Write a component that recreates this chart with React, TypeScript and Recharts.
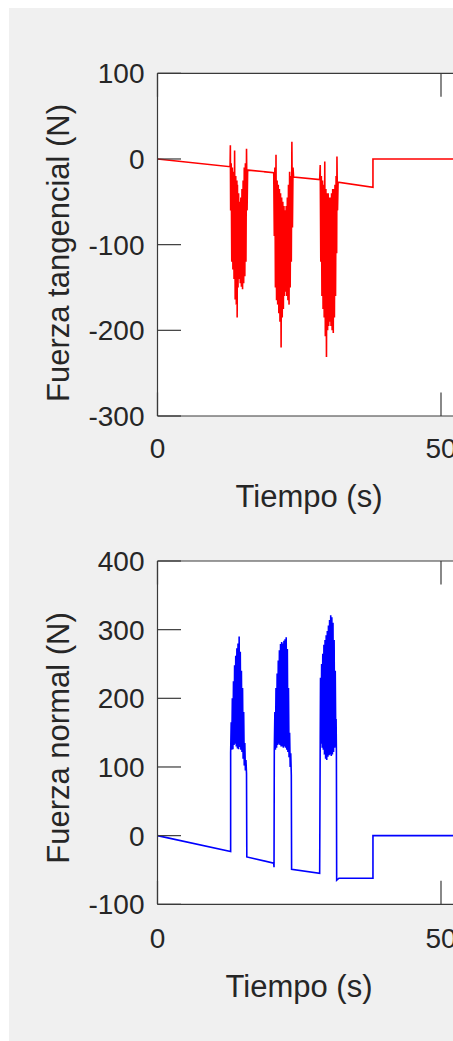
import React from 'react';
import { LineChart, Line, XAxis, YAxis, CartesianGrid, Label } from 'recharts';

type Pt = [number, number];

// ---------- axis ticks ----------
const timeTicks = [0, 50, 100];
const tanTicks = [-300, -200, -100, 0, 100];
const norTicks = [-100, 0, 100, 200, 300, 400];

// ---------- Fuerza tangencial (N) vs Tiempo (s) ----------
const tanLead: Pt[] = [[0, 0], [12.8, -9]];
const tanBurst1: Pt[] = [
  [12.85, 16], [12.9, -60], [13.0, -5], [13.1, -120], [13.2, -10], [13.3, -129], [13.4, -15], [13.5, -140],
  [13.6, 10], [13.7, -164], [13.8, -20], [13.9, -170], [14.0, -25], [14.05, -185], [14.1, -30], [14.2, -150],
  [14.3, -40], [14.4, -140], [14.5, -50], [14.6, -145], [14.7, -45], [14.8, -149], [14.9, -35], [15.0, -152],
  [15.1, -25], [15.2, -145], [15.3, -10], [15.4, -137], [15.5, -5], [15.6, -120], [15.7, 12], [15.8, -60],
  [15.9, -13], [16.0, -13],
];
const tanMid1: Pt[] = [[20.5, -16]];
const tanBurst2: Pt[] = [
  [20.6, -90], [20.7, -10], [20.8, -150], [20.9, 5], [21.0, -165], [21.1, -25], [21.2, -170], [21.3, -30],
  [21.4, -180], [21.5, -35], [21.6, -190], [21.7, -40], [21.8, -220], [21.9, -45], [22.0, -185], [22.1, -50],
  [22.2, -175], [22.3, -55], [22.4, -160], [22.5, -60], [22.6, -155], [22.7, -55], [22.8, -160], [22.9, -45],
  [23.0, -165], [23.1, -30], [23.2, -170], [23.3, -15], [23.4, -150], [23.5, -20], [23.6, -120], [23.7, 20],
  [23.8, -80], [23.9, -10], [24.0, -21],
];
const tanMid2: Pt[] = [[28.6, -24]];
const tanBurst3: Pt[] = [
  [28.7, -7], [28.8, -120], [28.9, -20], [29.0, -160], [29.1, -25], [29.2, -175], [29.3, -30], [29.4, -185],
  [29.5, -3], [29.6, -207], [29.7, -35], [29.8, -231], [29.9, -40], [30.0, -200], [30.1, -40], [30.2, -195],
  [30.3, -45], [30.4, -190], [30.5, -45], [30.6, -195], [30.7, -40], [30.8, -200], [30.9, -35], [31.0, -203],
  [31.1, -35], [31.2, -185], [31.3, -30], [31.4, -160], [31.5, -20], [31.6, -110], [31.65, 3], [31.75, -60],
  [31.85, -27],
];
const tanTail: Pt[] = [[38.0, -33], [38.0, 0], [100, 0]];

// ---------- Fuerza normal (N) vs Tiempo (s) ----------
const norLead: Pt[] = [[0, 0], [12.9, -23]];
const norBurst1: Pt[] = [
  [12.9, 120], [13.0, 165], [13.1, 125], [13.2, 200], [13.3, 126], [13.4, 225], [13.5, 132], [13.6, 248],
  [13.7, 134], [13.8, 262], [13.9, 130], [14.0, 273], [14.1, 127], [14.2, 280], [14.3, 126], [14.4, 290],
  [14.5, 129], [14.6, 268], [14.7, 125], [14.8, 240], [14.9, 122], [15.0, 215], [15.1, 112], [15.2, 180],
  [15.3, 102], [15.4, 135], [15.5, 95], [15.6, 110], [15.7, 90], [15.75, -31],
];
const norMid1: Pt[] = [[20.5, -40], [20.55, -46]];
const norBurst2: Pt[] = [
  [20.6, 125], [20.7, 180], [20.8, 125], [20.9, 215], [21.0, 128], [21.1, 236], [21.2, 132], [21.3, 255],
  [21.4, 134], [21.5, 270], [21.6, 132], [21.7, 279], [21.8, 130], [21.9, 282], [22.0, 130], [22.1, 280],
  [22.2, 128], [22.3, 284], [22.4, 130], [22.5, 286], [22.6, 128], [22.7, 289], [22.8, 125], [22.9, 272],
  [23.0, 122], [23.1, 215], [23.2, 114], [23.3, 150], [23.4, 100], [23.5, 120], [23.6, 88], [23.65, -49],
];
const norMid2: Pt[] = [[28.6, -55]];
const norBurst3: Pt[] = [
  [28.7, 140], [28.75, 230], [28.85, 134], [28.95, 250], [29.05, 128], [29.15, 265], [29.25, 125], [29.35, 278],
  [29.45, 118], [29.55, 285], [29.65, 112], [29.75, 292], [29.85, 110], [29.95, 298], [30.05, 115], [30.15, 306],
  [30.25, 117], [30.35, 314], [30.45, 118], [30.55, 321], [30.65, 116], [30.75, 318], [30.85, 118], [30.95, 310],
  [31.05, 122], [31.15, 285], [31.25, 128], [31.35, 240], [31.45, 130], [31.5, 170], [31.55, 125], [31.6, -65],
];
const norTail: Pt[] = [[32, -62], [38.0, -62], [38.0, 0], [100, 0]];

const toRows = (...segs: Pt[][]) => segs.flat().map(([t, v]) => ({ t, v }));
const tanData = toRows(tanLead, tanBurst1, tanMid1, tanBurst2, tanMid2, tanBurst3, tanTail);
const norData = toRows(norLead, norBurst1, norMid1, norBurst2, norMid2, norBurst3, norTail);

// ---------- styling ----------
const AXIS = '#3a3a3a';
const TXT = '#262626';
const FONT = '"Liberation Sans", Arial, Helvetica, sans-serif';
const TICK_LEN = 23.5;
const TICK_FS = 28;
const LABEL_FS = 31;

const makeBottomTick = (dy: number) => (props: any) => {
  const { x, y, payload } = props;
  return (
    <g>
      <line x1={x} y1={y} x2={x} y2={y - TICK_LEN} stroke={AXIS} strokeWidth={1.2} />
      <text x={x} y={y + dy} textAnchor="middle" fontSize={TICK_FS} fill={TXT} fontFamily={FONT}>
        {payload.value}
      </text>
    </g>
  );
};

const TopTick = (props: any) => {
  const { x, y } = props;
  return <line x1={x} y1={y} x2={x} y2={y + TICK_LEN} stroke={AXIS} strokeWidth={1.2} />;
};

const LeftTick = (props: any) => {
  const { x, y, payload } = props;
  return (
    <g>
      <line x1={x} y1={y} x2={x + TICK_LEN} y2={y} stroke={AXIS} strokeWidth={1.2} />
      <text x={x - 13} y={y + 10} textAnchor="end" fontSize={TICK_FS} fill={TXT} fontFamily={FONT}>
        {payload.value}
      </text>
    </g>
  );
};

const xLabel = (dx: number, dy: number, text: string) => (props: any) => {
  const vb = props.viewBox || {};
  return (
    <text x={vb.x + dx} y={vb.y + dy} textAnchor="middle" fontSize={LABEL_FS} fill={TXT} fontFamily={FONT}>
      {text}
    </text>
  );
};

const yLabel = (dx: number, dy: number, text: string) => (props: any) => {
  const vb = props.viewBox || {};
  const x = vb.x + dx;
  const y = vb.y + dy;
  return (
    <text
      x={x}
      y={y}
      transform={`rotate(-90, ${x}, ${y})`}
      textAnchor="middle"
      fontSize={LABEL_FS}
      fill={TXT}
      fontFamily={FONT}
    >
      {text}
    </text>
  );
};

interface PanelProps {
  data: { t: number; v: number }[];
  yTicks: number[];
  color: string;
  yText: string;
  height: number;
  marginTop: number;
  marginBottom: number;
  xTickDy: number;
  xLabelDx: number;
  xLabelDy: number;
  yLabelDy: number;
}

function Panel(p: PanelProps) {
  const yDomain: [number, number] = [p.yTicks[0], p.yTicks[p.yTicks.length - 1]];
  return (
    <LineChart
      width={760}
      height={p.height}
      data={p.data}
      margin={{ top: p.marginTop, right: 44.5, bottom: p.marginBottom, left: 88.5 }}
    >
      <CartesianGrid horizontal={false} vertical={false} fill="#ffffff" fillOpacity={1} />
      <XAxis
        xAxisId="top"
        orientation="top"
        type="number"
        dataKey="t"
        domain={[0, 100]}
        ticks={timeTicks}
        interval={0}
        allowDataOverflow
        height={30}
        tickSize={0}
        tickMargin={0}
        tickLine={false}
        axisLine={{ stroke: AXIS, strokeWidth: 1.2 }}
        tick={TopTick}
      />
      <XAxis
        type="number"
        dataKey="t"
        domain={[0, 100]}
        ticks={timeTicks}
        interval={0}
        allowDataOverflow
        height={30}
        tickSize={0}
        tickMargin={0}
        tickLine={false}
        axisLine={{ stroke: AXIS, strokeWidth: 1.2 }}
        tick={makeBottomTick(p.xTickDy)}
      >
        <Label content={xLabel(p.xLabelDx, p.xLabelDy, 'Tiempo (s)')} />
      </XAxis>
      <YAxis
        type="number"
        domain={yDomain}
        ticks={p.yTicks}
        interval={0}
        allowDataOverflow
        width={60}
        tickSize={0}
        tickMargin={0}
        tickLine={false}
        axisLine={{ stroke: AXIS, strokeWidth: 1.2 }}
        tick={LeftTick}
      >
        <Label content={yLabel(-29, p.yLabelDy, p.yText)} />
      </YAxis>
      <Line
        type="linear"
        dataKey="v"
        stroke={p.color}
        strokeWidth={1.6}
        dot={false}
        activeDot={false}
        isAnimationActive={false}
      />
    </LineChart>
  );
}

export default function App() {
  return (
    <div
      style={{
        position: 'fixed',
        left: 9,
        top: 8,
        right: 0,
        bottom: 0,
        background: '#f0f0f0',
        overflow: 'hidden',
      }}
    >
      <div style={{ position: 'absolute', left: 0, top: 0 }}>
        <Panel
          data={tanData}
          yTicks={tanTicks}
          color="#ff0000"
          yText="Fuerza tangencial (N)"
          height={530}
          marginTop={35.3}
          marginBottom={92}
          xTickDy={42}
          xLabelDx={151.5}
          xLabelDy={90.5}
          yLabelDy={179.7}
        />
      </div>
      <div style={{ position: 'absolute', left: 0, top: 500 }}>
        <Panel
          data={norData}
          yTicks={norTicks}
          color="#0000ff"
          yText="Fuerza normal (N)"
          height={533}
          marginTop={23}
          marginBottom={106.7}
          xTickDy={44}
          xLabelDx={141.5}
          xLabelDy={93}
          yLabelDy={177}
        />
      </div>
    </div>
  );
}
